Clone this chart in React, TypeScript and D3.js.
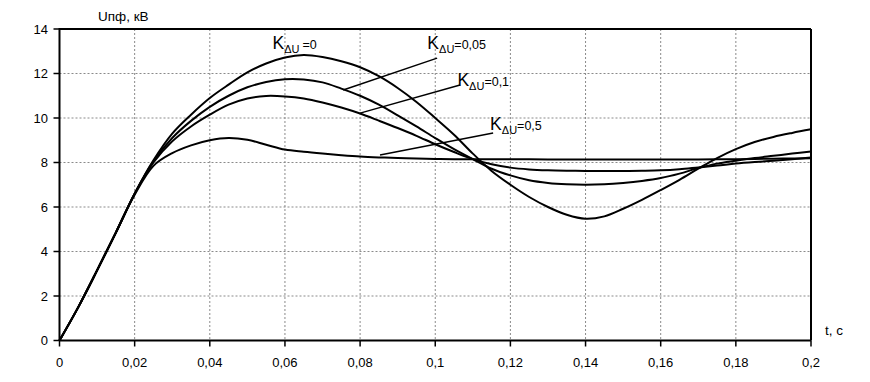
import React from "react";
import * as d3 from "d3";

const times = [0, 0.005, 0.01, 0.015, 0.02, 0.025, 0.03, 0.035, 0.04, 0.045, 0.05, 0.055, 0.06, 0.065, 0.07, 0.075, 0.08, 0.085, 0.09, 0.095, 0.1, 0.105, 0.11, 0.115, 0.12, 0.125, 0.13, 0.135, 0.14, 0.145, 0.15, 0.155, 0.16, 0.165, 0.17, 0.175, 0.18, 0.185, 0.19, 0.195, 0.2];

const k0 = [0, 1.5, 3.15, 4.85, 6.6, 8.1, 9.3, 10.15, 10.9, 11.5, 12.05, 12.45, 12.72, 12.83, 12.74, 12.55, 12.28, 11.88, 11.35, 10.72, 10.0, 9.25, 8.4, 7.62, 7.0, 6.45, 6.0, 5.65, 5.47, 5.58, 5.92, 6.32, 6.76, 7.22, 7.72, 8.2, 8.6, 8.92, 9.15, 9.33, 9.49];
const k005 = [0, 1.5, 3.15, 4.85, 6.6, 8.05, 9.1, 9.87, 10.5, 11.0, 11.38, 11.62, 11.74, 11.73, 11.6, 11.32, 11.0, 10.6, 10.12, 9.62, 9.1, 8.6, 8.15, 7.72, 7.42, 7.2, 7.08, 7.02, 7.0, 7.02, 7.08, 7.17, 7.3, 7.5, 7.75, 7.95, 8.08, 8.2, 8.3, 8.4, 8.49];
const k01 = [0, 1.5, 3.15, 4.85, 6.6, 8.0, 8.95, 9.62, 10.15, 10.6, 10.88, 10.99, 10.97, 10.88, 10.7, 10.47, 10.2, 9.88, 9.55, 9.2, 8.82, 8.47, 8.15, 7.92, 7.77, 7.69, 7.65, 7.63, 7.62, 7.62, 7.62, 7.63, 7.65, 7.7, 7.78, 7.86, 7.95, 8.02, 8.08, 8.15, 8.23];
const k05 = [0, 1.5, 3.15, 4.85, 6.55, 7.85, 8.42, 8.77, 9.0, 9.1, 9.02, 8.8, 8.58, 8.48, 8.4, 8.33, 8.27, 8.23, 8.2, 8.18, 8.16, 8.15, 8.15, 8.15, 8.15, 8.15, 8.14, 8.14, 8.14, 8.14, 8.14, 8.14, 8.14, 8.14, 8.14, 8.15, 8.15, 8.16, 8.17, 8.18, 8.19];

const seriesList = [k0, k005, k01, k05];

const xTicks = [0, 0.02, 0.04, 0.06, 0.08, 0.1, 0.12, 0.14, 0.16, 0.18, 0.2];
const yTicks = [0, 2, 4, 6, 8, 10, 12, 14];

const labelNames = ["=0", "=0,05", "=0,1", "=0,5"];
// label anchor (t, v) and leader line from (t1,v1) to (t2,v2)
const labelT = [0.0567, 0.0979, 0.1059, 0.1146];
const labelV = [13.1, 13.08, 11.44, 9.46];
const leaderFromT = [null, 0.0755, 0.08, 0.0853];
const leaderFromV = [null, 11.26, 10.22, 8.34];
const leaderToT = [null, 0.1005, 0.1066, 0.1154];
const leaderToV = [null, 12.69, 11.48, 9.33];

const fmt = (d: number) => String(d).replace(".", ",");

export default function App() {
  const W = 870, H = 382;
  const x = d3.scaleLinear().domain([0, 0.2]).range([59.5, 811]);
  const y = d3.scaleLinear().domain([0, 14]).range([340.5, 29]);
  const line = d3
    .line<number>()
    .x((_, i) => x(times[i]))
    .y((d) => y(d))
    .curve(d3.curveCatmullRom.alpha(0.5));

  const font = "Arial, 'Liberation Sans', sans-serif";

  return (
    <svg width={W} height={H} style={{ position: "absolute", left: 0, top: 0, background: "#fff" }} fontFamily={font}>
      <rect x={0} y={0} width={W} height={H} fill="#fff" />
      {/* grid */}
      {xTicks.slice(1, -1).map((t) => (
        <line key={"gx" + t} x1={x(t)} x2={x(t)} y1={y(14)} y2={y(0)} stroke="#8a8a8a" strokeWidth={1} strokeDasharray="2,2" />
      ))}
      {yTicks.slice(1, -1).map((v) => (
        <line key={"gy" + v} x1={x(0)} x2={x(0.2)} y1={y(v)} y2={y(v)} stroke="#8a8a8a" strokeWidth={1} strokeDasharray="2,2" />
      ))}
      {/* curves */}
      {seriesList.map((s, i) => (
        <path key={"s" + i} d={line(s) || ""} fill="none" stroke="#000" strokeWidth={2} />
      ))}
      {/* leader lines */}
      {labelNames.map((_, i) =>
        leaderFromT[i] == null ? null : (
          <line
            key={"ld" + i}
            x1={x(leaderFromT[i] as number)}
            y1={y(leaderFromV[i] as number)}
            x2={x(leaderToT[i] as number)}
            y2={y(leaderToV[i] as number)}
            stroke="#000"
            strokeWidth={1.5}
          />
        )
      )}
      {/* frame */}
      <line x1={x(0)} x2={x(0.2)} y1={y(14)} y2={y(14)} stroke="#000" strokeWidth={2} />
      <line x1={x(0.2)} x2={x(0.2)} y1={y(14)} y2={y(0)} stroke="#000" strokeWidth={2} />
      <line x1={x(0)} x2={x(0.2)} y1={y(0)} y2={y(0)} stroke="#000" strokeWidth={2} />
      <line x1={x(0)} x2={x(0)} y1={y(14) - 1} y2={y(0)} stroke="#000" strokeWidth={2} />
      {/* ticks */}
      {xTicks.map((t) => (
        <g key={"xt" + t}>
          <line x1={x(t)} x2={x(t)} y1={y(0)} y2={y(0) + 6} stroke="#000" strokeWidth={1.5} />
          <text x={x(t)} y={367} textAnchor="middle" fontSize={13} fill="#000">
            {fmt(t)}
          </text>
        </g>
      ))}
      {yTicks.map((v) => (
        <g key={"yt" + v}>
          <line x1={x(0) - 6} x2={x(0)} y1={y(v)} y2={y(v)} stroke="#000" strokeWidth={1.5} />
          <text x={48} y={y(v) + 4.5} textAnchor="end" fontSize={13} fill="#000">
            {v}
          </text>
        </g>
      ))}
      {/* axis titles */}
      <text x={98} y={21} fontSize={13.5} fill="#000">Uпф, кВ</text>
      <text x={825} y={335} fontSize={13.5} fill="#000">t, c</text>
      {/* labels */}
      {labelNames.map((nm, i) => (
        <text key={"lb" + i} x={x(labelT[i])} y={y(labelV[i])} fill="#000">
          <tspan fontSize={17.5}>K</tspan>
          <tspan fontSize={11} dy={4}>ΔU</tspan>
          <tspan fontSize={12.5} dy={-4} dx={i === 0 ? 3 : 0}>{nm}</tspan>
        </text>
      ))}
    </svg>
  );
}
